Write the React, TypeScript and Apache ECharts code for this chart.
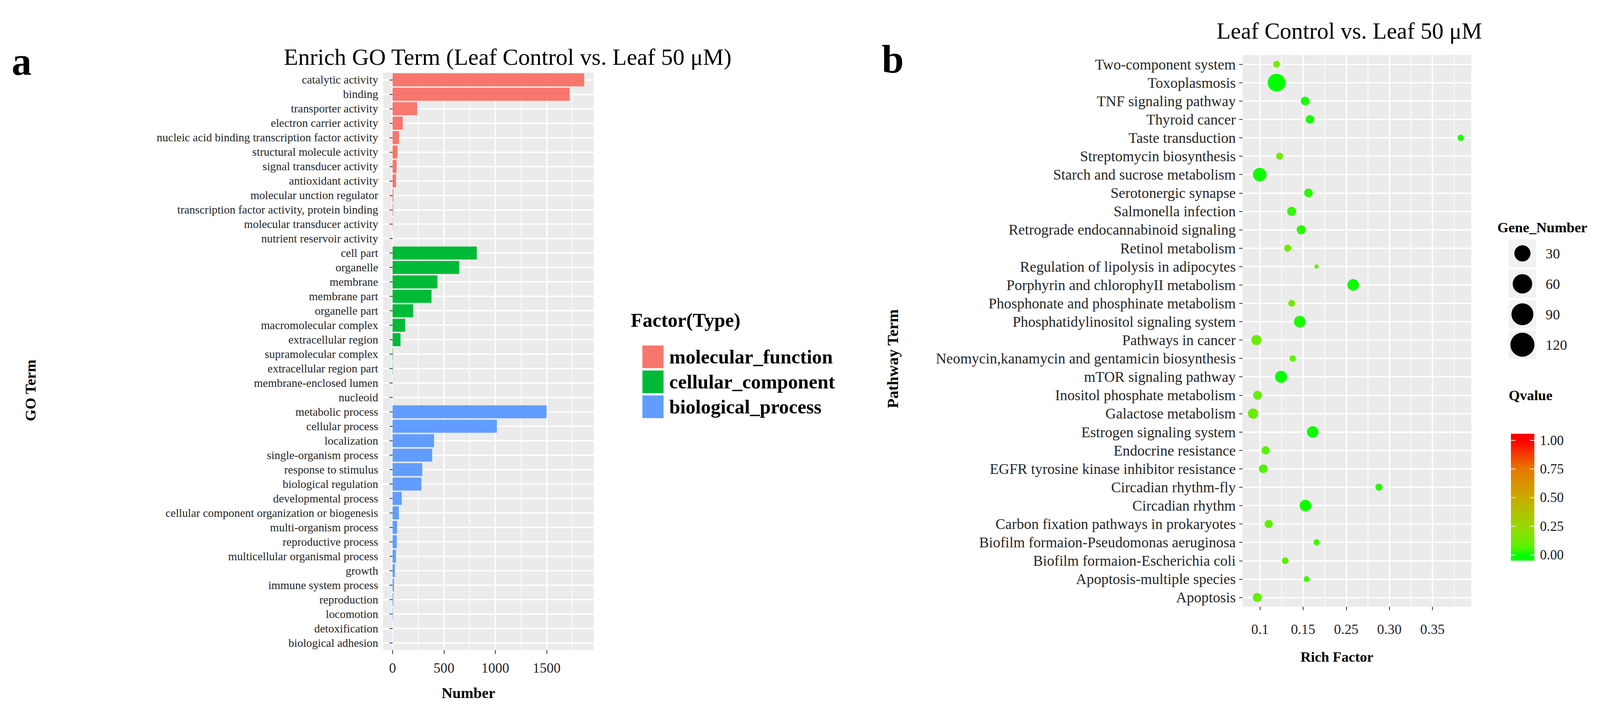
import React, { useEffect, useRef } from 'react';
import * as echarts from 'echarts';

// ---------- Panel a data ----------
const mfTerms = [
  'catalytic activity', 'binding', 'transporter activity', 'electron carrier activity',
  'nucleic acid binding transcription factor activity', 'structural molecule activity',
  'signal transducer activity', 'antioxidant activity', 'molecular unction regulator',
  'transcription factor activity, protein binding', 'molecular transducer activity',
  'nutrient reservoir activity',
];
const mfCounts = [1865, 1724, 239, 99, 63, 48, 39, 34, 8, 6, 3, 1];

const ccTerms = [
  'cell part', 'organelle', 'membrane', 'membrane part', 'organelle part',
  'macromolecular complex', 'extracellular region', 'supramolecular complex',
  'extracellular region part', 'membrane-enclosed lumen', 'nucleoid',
];
const ccCounts = [820, 649, 437, 379, 200, 122, 77, 4, 3, 1, 1];

const bpTerms = [
  'metabolic process', 'cellular process', 'localization', 'single-organism process',
  'response to stimulus', 'biological regulation', 'developmental process',
  'cellular component organization or biogenesis', 'multi-organism process',
  'reproductive process', 'multicellular organismal process', 'growth',
  'immune system process', 'reproduction', 'locomotion', 'detoxification',
  'biological adhesion',
];
const bpCounts = [1499, 1015, 404, 386, 289, 280, 89, 61, 44, 41, 33, 22, 13, 7, 4, 1, 1];

const typeNames = ['molecular_function', 'cellular_component', 'biological_process'];
const typeColors = ['#F8766D', '#00BA38', '#619CFF'];
const numberTicks = [0, 500, 1000, 1500];
const numberMinorTicks = [250, 750, 1250, 1750];

// ---------- Panel b data ----------
const pathwayTerms = [
  'Two-component system', 'Toxoplasmosis', 'TNF signaling pathway', 'Thyroid cancer',
  'Taste transduction', 'Streptomycin biosynthesis', 'Starch and sucrose metabolism',
  'Serotonergic synapse', 'Salmonella infection', 'Retrograde endocannabinoid signaling',
  'Retinol metabolism', 'Regulation of lipolysis in adipocytes',
  'Porphyrin and chlorophyII metabolism', 'Phosphonate and phosphinate metabolism',
  'Phosphatidylinositol signaling system', 'Pathways in cancer',
  'Neomycin,kanamycin and gentamicin biosynthesis', 'mTOR signaling pathway',
  'Inositol phosphate metabolism', 'Galactose metabolism', 'Estrogen signaling system',
  'Endocrine resistance', 'EGFR tyrosine kinase inhibitor resistance',
  'Circadian rhythm-fly', 'Circadian rhythm', 'Carbon fixation pathways in prokaryotes',
  'Biofilm formaion-Pseudomonas aeruginosa', 'Biofilm formaion-Escherichia coli',
  'Apoptosis-multiple species', 'Apoptosis',
];
const richFactor = [
  0.1192, 0.1192, 0.1524, 0.158, 0.3328, 0.1227, 0.0997, 0.1562, 0.1367, 0.1478,
  0.1321, 0.1656, 0.208, 0.1367, 0.1461, 0.0958, 0.138, 0.1244, 0.0972, 0.092,
  0.1611, 0.1066, 0.1038, 0.2379, 0.1527, 0.1101, 0.1656, 0.1293, 0.1541, 0.0969,
];
const geneNumber = [
  18, 125, 30, 30, 16, 20, 73, 30, 33, 33,
  20, 7, 54, 18, 54, 41, 16, 58, 31, 43,
  54, 27, 30, 20, 54, 27, 15, 18, 14, 33,
];
const qValue = [
  0.13, 0.0, 0.02, 0.02, 0.02, 0.13, 0.01, 0.03, 0.04, 0.03,
  0.12, 0.10, 0.01, 0.13, 0.02, 0.11, 0.10, 0.0, 0.10, 0.11,
  0.01, 0.07, 0.06, 0.03, 0.01, 0.09, 0.05, 0.08, 0.05, 0.10,
];
const richTicks = [0.1, 0.15, 0.2, 0.25, 0.3];
const richTickLabels = ['0.1', '0.15', '0.25', '0.30', '0.35'];
const richMinorTicks = [0.125, 0.175, 0.225, 0.275, 0.325];
const geneBreaks = [30, 60, 90, 120];
const qTicks = [0, 0.25, 0.5, 0.75, 1];
const qTickLabels = ['0.00', '0.25', '0.50', '0.75', '1.00'];
// green -> red gradient (Lab-like interpolation as in ggplot2)
const qStops = [0, 0.0625, 0.125, 0.25, 0.5, 0.75, 1];
const qStopColors = ['#00FF00', '#51F500', '#70EB00', '#98D700', '#C9AB00', '#E87700', '#FF0000'];

const FONT = "'Liberation Serif', 'Times New Roman', serif";
const LABEL = '#262626';
const REF_W = 4239;
const REF_H = 1811;

function hexToRgb(h: string) {
  const n = parseInt(h.slice(1), 16);
  return [(n >> 16) & 255, (n >> 8) & 255, n & 255];
}
function qColor(q: number) {
  const v = Math.max(0, Math.min(1, q));
  let i = 0;
  while (i < qStops.length - 2 && v > qStops[i + 1]) i++;
  const t = (v - qStops[i]) / (qStops[i + 1] - qStops[i]);
  const a = hexToRgb(qStopColors[i]);
  const b = hexToRgb(qStopColors[i + 1]);
  const c = a.map((x, k) => Math.round(x + (b[k] - x) * t));
  return `rgb(${c[0]},${c[1]},${c[2]})`;
}

function buildOption(W: number, H: number) {
  const sx = W / REF_W;
  const sy = H / REF_H;
  const sf = Math.min(sx, sy);
  const X = (v: number) => v * sx;
  const Y = (v: number) => v * sy;
  const F = (v: number) => v * sf;

  const txt = (text: string, x: number, y: number, size: number, opts: any = {}) => ({
    type: 'text',
    x: X(x),
    y: Y(y),
    rotation: opts.rotation || 0,
    silent: true,
    style: {
      text,
      fontSize: F(size),
      fontFamily: FONT,
      fontWeight: opts.bold ? 'bold' : 'normal',
      fill: opts.color || '#000',
      align: opts.align || 'left',
      textAlign: opts.align || 'left',
      verticalAlign: 'middle',
      textVerticalAlign: 'middle',
    },
  });

  const goTerms = [...mfTerms, ...ccTerms, ...bpTerms];
  const groups = [
    [mfTerms, mfCounts],
    [ccTerms, ccCounts],
    [bpTerms, bpCounts],
  ] as const;

  const gridA = { left: X(1015), top: Y(186), width: X(558), height: Y(1479) };
  const gridB = { left: X(3292), top: Y(141), width: X(606), height: Y(1413) };

  const richLabel = (v: number) => {
    let best = 0;
    richTicks.forEach((t, i) => {
      if (Math.abs(t - v) < Math.abs(richTicks[best] - v)) best = i;
    });
    return richTickLabels[best];
  };

  // size legend (Gene_Number)
  const legendDiam = (v: number) => 22 + 3.8 * Math.sqrt(v);
  const keyTop = 613;
  const keyStep = 78;
  const sizeLegend: any[] = [];
  geneBreaks.forEach((g, i) => {
    const cy = keyTop + i * keyStep + 36;
    sizeLegend.push({
      type: 'rect', silent: true,
      shape: { x: X(3997), y: Y(cy - 36), width: X(73), height: Y(72) },
      style: { fill: '#F2F2F2' },
    });
    sizeLegend.push({
      type: 'circle', silent: true,
      shape: { cx: X(4033.5), cy: Y(cy), r: F(legendDiam(g) / 2) },
      style: { fill: '#000' },
    });
    sizeLegend.push(txt(String(g), 4095, cy, 38, { color: '#1a1a1a' }));
  });

  // colour bar (Qvalue)
  const cb0 = 1421.5; // y of q = 0
  const cb1 = 1128; // y of q = 1
  const cbY = (v: number) => cb0 - v * (cb0 - cb1);
  const stops = qStops
    .map((s, i) => ({ offset: 1 - s, color: qStopColors[i] }))
    .reverse();
  const colorBar: any[] = [
    {
      type: 'rect', silent: true,
      shape: { x: X(4003), y: Y(1111), width: X(62), height: Y(325) },
      style: { fill: new echarts.graphic.LinearGradient(0, Y(cb1), 0, Y(cb0), stops, true) },
    },
  ];
  qTicks.forEach((v, i) => {
    const y = Y(cbY(v));
    colorBar.push({
      type: 'line', silent: true,
      shape: { x1: X(4003), y1: y, x2: X(4015), y2: y },
      style: { stroke: '#fff', lineWidth: 2, opacity: 0.85 },
    });
    colorBar.push({
      type: 'line', silent: true,
      shape: { x1: X(4053), y1: y, x2: X(4065), y2: y },
      style: { stroke: '#fff', lineWidth: 2, opacity: 0.85 },
    });
    colorBar.push(txt(qTickLabels[i], 4080, cbY(v), 36, { color: '#1a1a1a' }));
  });

  const valueAxisCommon = {
    type: 'value',
    axisLine: { show: false },
    splitArea: { show: false },
  };

  return {
    animation: false,
    backgroundColor: '#ffffff',
    grid: [
      { ...gridA, show: true, backgroundColor: '#EBEBEB', borderWidth: 0, containLabel: false },
      { ...gridB, show: true, backgroundColor: '#EBEBEB', borderWidth: 0, containLabel: false },
    ],
    xAxis: [
      {
        ...valueAxisCommon,
        gridIndex: 0, min: -92, max: 1958, position: 'bottom',
        axisTick: { show: true, length: Y(10), customValues: numberTicks, lineStyle: { color: '#333', width: 2 } },
        axisLabel: {
          customValues: numberTicks, margin: Y(28), fontSize: F(37), fontFamily: FONT, color: LABEL,
          formatter: (v: number) => String(Math.round(v)),
        },
        splitLine: { show: true, lineStyle: { color: '#ffffff', width: 3.5 } },
      },
      {
        ...valueAxisCommon,
        gridIndex: 0, min: -92, max: 1958, position: 'top',
        axisTick: { show: false, customValues: numberMinorTicks },
        axisLabel: { show: false, customValues: numberMinorTicks },
        splitLine: { show: true, lineStyle: { color: '#ffffff', width: 1.8 } },
      },
      {
        ...valueAxisCommon,
        gridIndex: 1, min: 0.0798, max: 0.345, position: 'bottom',
        axisTick: { show: true, length: Y(9), customValues: richTicks, lineStyle: { color: '#333', width: 2 } },
        axisLabel: { customValues: richTicks, margin: Y(40), fontSize: F(37), fontFamily: FONT, color: LABEL, formatter: richLabel },
        splitLine: { show: true, lineStyle: { color: '#ffffff', width: 3.5 } },
      },
      {
        ...valueAxisCommon,
        gridIndex: 1, min: 0.0798, max: 0.345, position: 'top',
        axisTick: { show: false, customValues: richMinorTicks },
        axisLabel: { show: false, customValues: richMinorTicks },
        splitLine: { show: true, lineStyle: { color: '#ffffff', width: 1.8 } },
      },
    ],
    yAxis: [
      {
        type: 'category', gridIndex: 0, data: goTerms, inverse: true,
        axisLine: { show: false },
        axisTick: { show: true, alignWithLabel: true, interval: 0, length: X(8), lineStyle: { color: '#333', width: 2 } },
        axisLabel: { interval: 0, margin: X(13), fontSize: F(30.5), fontFamily: FONT, color: LABEL },
        splitLine: { show: true, alignWithLabel: true, interval: 0, lineStyle: { color: '#ffffff', width: 3.5 } },
      },
      {
        type: 'category', gridIndex: 1, data: pathwayTerms, inverse: true,
        axisLine: { show: false },
        axisTick: { show: true, alignWithLabel: true, interval: 0, length: X(9), lineStyle: { color: '#333', width: 2 } },
        axisLabel: { interval: 0, margin: X(18), fontSize: F(39), fontFamily: FONT, color: LABEL },
        splitLine: { show: true, alignWithLabel: true, interval: 0, lineStyle: { color: '#ffffff', width: 3.5 } },
      },
    ],
    legend: {
      data: typeNames,
      orient: 'vertical',
      left: X(1702),
      top: Y(885),
      padding: 0,
      itemWidth: X(56),
      itemHeight: Y(58),
      itemGap: Y(6),
      icon: 'rect',
      selectedMode: false,
      textStyle: { fontSize: F(52), fontWeight: 'bold', fontFamily: FONT, color: '#000', padding: [0, 0, 0, X(10)] },
    },
    series: [
      ...groups.map(([terms, counts], gi) => ({
        type: 'bar',
        name: typeNames[gi],
        xAxisIndex: 0,
        yAxisIndex: 0,
        barGap: '-100%',
        barCategoryGap: '10%',
        itemStyle: { color: typeColors[gi] },
        data: (terms as readonly string[]).map((t, i) => [counts[i], t]),
      })),
      {
        type: 'scatter',
        name: 'pathway',
        xAxisIndex: 2,
        yAxisIndex: 1,
        symbol: 'circle',
        symbolSize: (v: any) => F(4.2 * Math.sqrt(v[2])),
        itemStyle: { color: (p: any) => qColor(p.value[3]), opacity: 1 },
        data: pathwayTerms.map((t, i) => [richFactor[i], t, geneNumber[i], qValue[i]]),
      },
    ],
    graphic: {
      elements: [
        txt('a', 31, 157, 105, { bold: true }),
        txt('b', 2336, 152, 105, { bold: true }),
        txt('Enrich GO Term (Leaf Control vs. Leaf 50 μM)', 1345, 146, 62, { align: 'center' }),
        txt('Leaf Control vs. Leaf 50 μM', 3575, 79, 61, { align: 'center' }),
        txt('GO Term', 81, 1000, 40, { bold: true, align: 'center', rotation: Math.PI / 2 }),
        txt('Pathway Term', 2365, 919, 42, { bold: true, align: 'center', rotation: Math.PI / 2 }),
        txt('Number', 1241, 1775, 40, { bold: true, align: 'center' }),
        txt('Rich Factor', 3542, 1682, 38, { bold: true, align: 'center' }),
        txt('Factor(Type)', 1671, 820, 52, { bold: true }),
        txt('Gene_Number', 3967, 582, 38, { bold: true }),
        txt('Qvalue', 3997, 1012, 38, { bold: true }),
        ...sizeLegend,
        ...colorBar,
      ],
    },
  };
}

export default function App() {
  const ref = useRef<HTMLDivElement>(null);
  useEffect(() => {
    const el = ref.current;
    if (!el) return;
    const chart = echarts.init(el, undefined, { renderer: 'svg' });
    const W = el.clientWidth || REF_W;
    const H = el.clientHeight || REF_H;
    chart.setOption(buildOption(W, H) as any);
    return () => chart.dispose();
  }, []);
  return (
    <div
      ref={ref}
      style={{
        position: 'fixed', left: 0, top: 0,
        width: 'min(100vw, 4239px)', height: 'min(100vh, 1811px)',
        background: '#fff',
      }}
    />
  );
}
